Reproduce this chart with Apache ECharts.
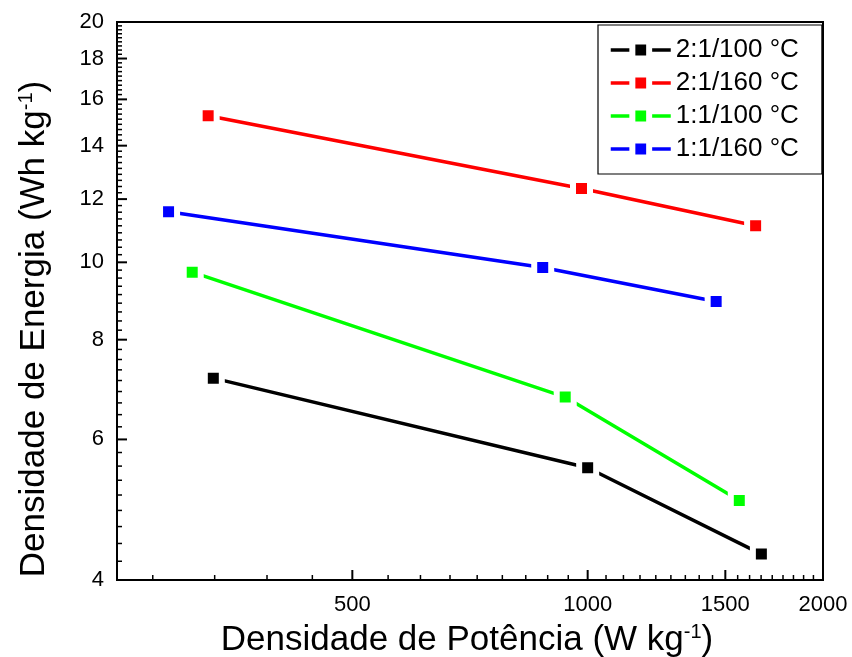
<!DOCTYPE html>
<html>
<head>
<meta charset="utf-8">
<script src="https://cdn.jsdelivr.net/npm/echarts@6/dist/echarts.min.js"></script>
<style>
html, body { margin: 0; padding: 0; background: #ffffff; }
#chart { width: 852px; height: 657px; }
</style>
</head>
<body>
<div id="chart"></div>
<script>
// Ragone plot: energy density vs power density, log-log
const seriesNames = ['2:1/100 °C', '2:1/160 °C', '1:1/100 °C', '1:1/160 °C'];
const seriesColors = ['#000000', '#ff0000', '#00ff00', '#0000ff'];

// power density (W kg-1) and energy density (Wh kg-1) per sample
const power_21_100 = [332, 1000, 1668];
const energy_21_100 = [7.16, 5.53, 4.31];
const power_21_160 = [327, 982, 1640];
const energy_21_160 = [15.26, 12.37, 11.11];
const power_11_100 = [312, 936, 1563];
const energy_11_100 = [9.72, 6.78, 5.03];
const power_11_160 = [291, 876, 1460];
const energy_11_160 = [11.57, 9.85, 8.93];

// axis ranges and labelled ticks
const xRange = [250, 2000];
const yRange = [4, 20];
const xTickLabels = [500, 1000, 1500, 2000];
const yTickLabels = [4, 6, 8, 10, 12, 14, 16, 18, 20];
const xMajorStep = 500;
const yMajorStep = 2;
const minorPerMajor = 8;

const FONT = "'Liberation Sans', Arial, Helvetica, sans-serif";

function pairs(xs, ys) { return xs.map((x, i) => [x, ys[i]]); }

const seriesData = [
  pairs(power_21_100, energy_21_100),
  pairs(power_21_160, energy_21_160),
  pairs(power_11_100, energy_11_100),
  pairs(power_11_160, energy_11_160)
];

// minor tick values: linear subdivisions of each major step
function minorTicks(range, step) {
  const out = [];
  const sub = step / (minorPerMajor + 1);
  const kStart = Math.ceil(range[0] / sub - 1e-9);
  const kEnd = Math.floor(range[1] / sub + 1e-9);
  for (let k = kStart; k <= kEnd; k++) {
    if (k % (minorPerMajor + 1) === 0) continue;
    const v = k * sub;
    if (v > range[0] + 1e-9 && v < range[1] - 1e-9) out.push(v);
  }
  return out;
}

const xTickItems = [];
xTickLabels.forEach(v => xTickItems.push([v, yRange[0], 10, 2]));
minorTicks(xRange, xMajorStep).forEach(v => xTickItems.push([v, yRange[0], 5, 1.5]));

const yTickItems = [];
yTickLabels.forEach(v => yTickItems.push([xRange[0], v, 10, 2]));
minorTicks(yRange, yMajorStep).forEach(v => yTickItems.push([xRange[0], v, 5, 1.5]));

function tickSeries(items, dir) {
  return {
    type: 'custom',
    silent: true,
    clip: false,
    z: 4,
    data: items,
    encode: { x: 0, y: 1 },
    renderItem: function (params, api) {
      const p = api.coord([api.value(0), api.value(1)]);
      const len = api.value(2);
      const w = api.value(3);
      const e = dir === 'x' ? [p[0], p[1] - len] : [p[0] + len, p[1]];
      return {
        type: 'line',
        shape: { x1: p[0], y1: p[1], x2: e[0], y2: e[1] },
        style: { stroke: '#000000', lineWidth: w }
      };
    }
  };
}

function labelSeries(items, dir) {
  return {
    type: 'custom',
    silent: true,
    clip: false,
    z: 4,
    data: items,
    encode: { x: 0, y: 1 },
    renderItem: function (params, api) {
      const xv = api.value(0), yv = api.value(1);
      const p = api.coord([xv, yv]);
      const isX = dir === 'x';
      return {
        type: 'text',
        x: isX ? p[0] : p[0] - 13,
        y: isX ? p[1] + 14 : p[1],
        style: {
          text: String(isX ? xv : yv),
          fill: '#000000',
          fontSize: 22,
          fontFamily: FONT,
          align: isX ? 'center' : 'right',
          verticalAlign: isX ? 'top' : 'middle'
        }
      };
    }
  };
}

const lineSeries = seriesNames.map((name, i) => ({
  name: name,
  type: 'line',
  data: seriesData[i],
  symbol: 'rect',
  symbolSize: 17,
  z: 3,
  lineStyle: { color: seriesColors[i], width: 3.5 },
  itemStyle: { color: seriesColors[i], borderColor: '#ffffff', borderWidth: 6 },
  emphasis: { disabled: true }
}));

const titleRich = {
  a: { fontSize: 35, fontFamily: FONT, fill: '#000000', lineHeight: 35 },
  s: { fontSize: 20, fontFamily: FONT, fill: '#000000', lineHeight: 8, verticalAlign: 'top' }
};

const option = {
  animation: false,
  backgroundColor: '#ffffff',
  grid: {
    left: 117, right: 29, top: 22, bottom: 77,
    show: true, borderColor: '#000000', borderWidth: 2, backgroundColor: 'transparent'
  },
  xAxis: {
    type: 'log', logBase: 10, min: xRange[0], max: xRange[1],
    axisLine: { show: true, lineStyle: { color: '#000000', width: 2 } },
    axisTick: { show: false }, minorTick: { show: false },
    axisLabel: { show: false },
    splitLine: { show: false }, minorSplitLine: { show: false }
  },
  yAxis: {
    type: 'log', logBase: 10, min: yRange[0], max: yRange[1],
    axisLine: { show: true, lineStyle: { color: '#000000', width: 2 } },
    axisTick: { show: false }, minorTick: { show: false },
    axisLabel: { show: false },
    splitLine: { show: false }, minorSplitLine: { show: false }
  },
  legend: {
    data: seriesNames,
    orient: 'vertical',
    left: 598, top: 25,
    padding: [12, 23, 12, 11],
    itemGap: 7,
    itemWidth: 60,
    itemHeight: 21,
    backgroundColor: '#ffffff',
    borderColor: '#000000',
    borderWidth: 1.2,
    borderRadius: 0,
    selectedMode: false,
    textStyle: { fontSize: 26, fontFamily: FONT, color: '#000000' },
    itemStyle: { borderColor: '#ffffff', borderWidth: 6 },
    lineStyle: { width: 3.5 }
  },
  graphic: [
    {
      type: 'text', x: 467, y: 640, silent: true,
      style: {
        text: '{a|Densidade de Potência (W kg}{s|-1}{a|)}',
        rich: titleRich, align: 'center', verticalAlign: 'middle'
      }
    },
    {
      type: 'text', x: 34, y: 329, rotation: Math.PI / 2, silent: true,
      style: {
        text: '{a|Densidade de Energia (Wh kg}{s|-1}{a|)}',
        rich: titleRich, align: 'center', verticalAlign: 'middle'
      }
    }
  ],
  series: lineSeries.concat([
    tickSeries(xTickItems, 'x'),
    tickSeries(yTickItems, 'y'),
    labelSeries(xTickLabels.map(v => [v, yRange[0]]), 'x'),
    labelSeries(yTickLabels.map(v => [xRange[0], v]), 'y')
  ])
};

const chart = echarts.init(document.getElementById('chart'), null, { renderer: 'canvas' });
chart.setOption(option);
</script>
</body>
</html>
